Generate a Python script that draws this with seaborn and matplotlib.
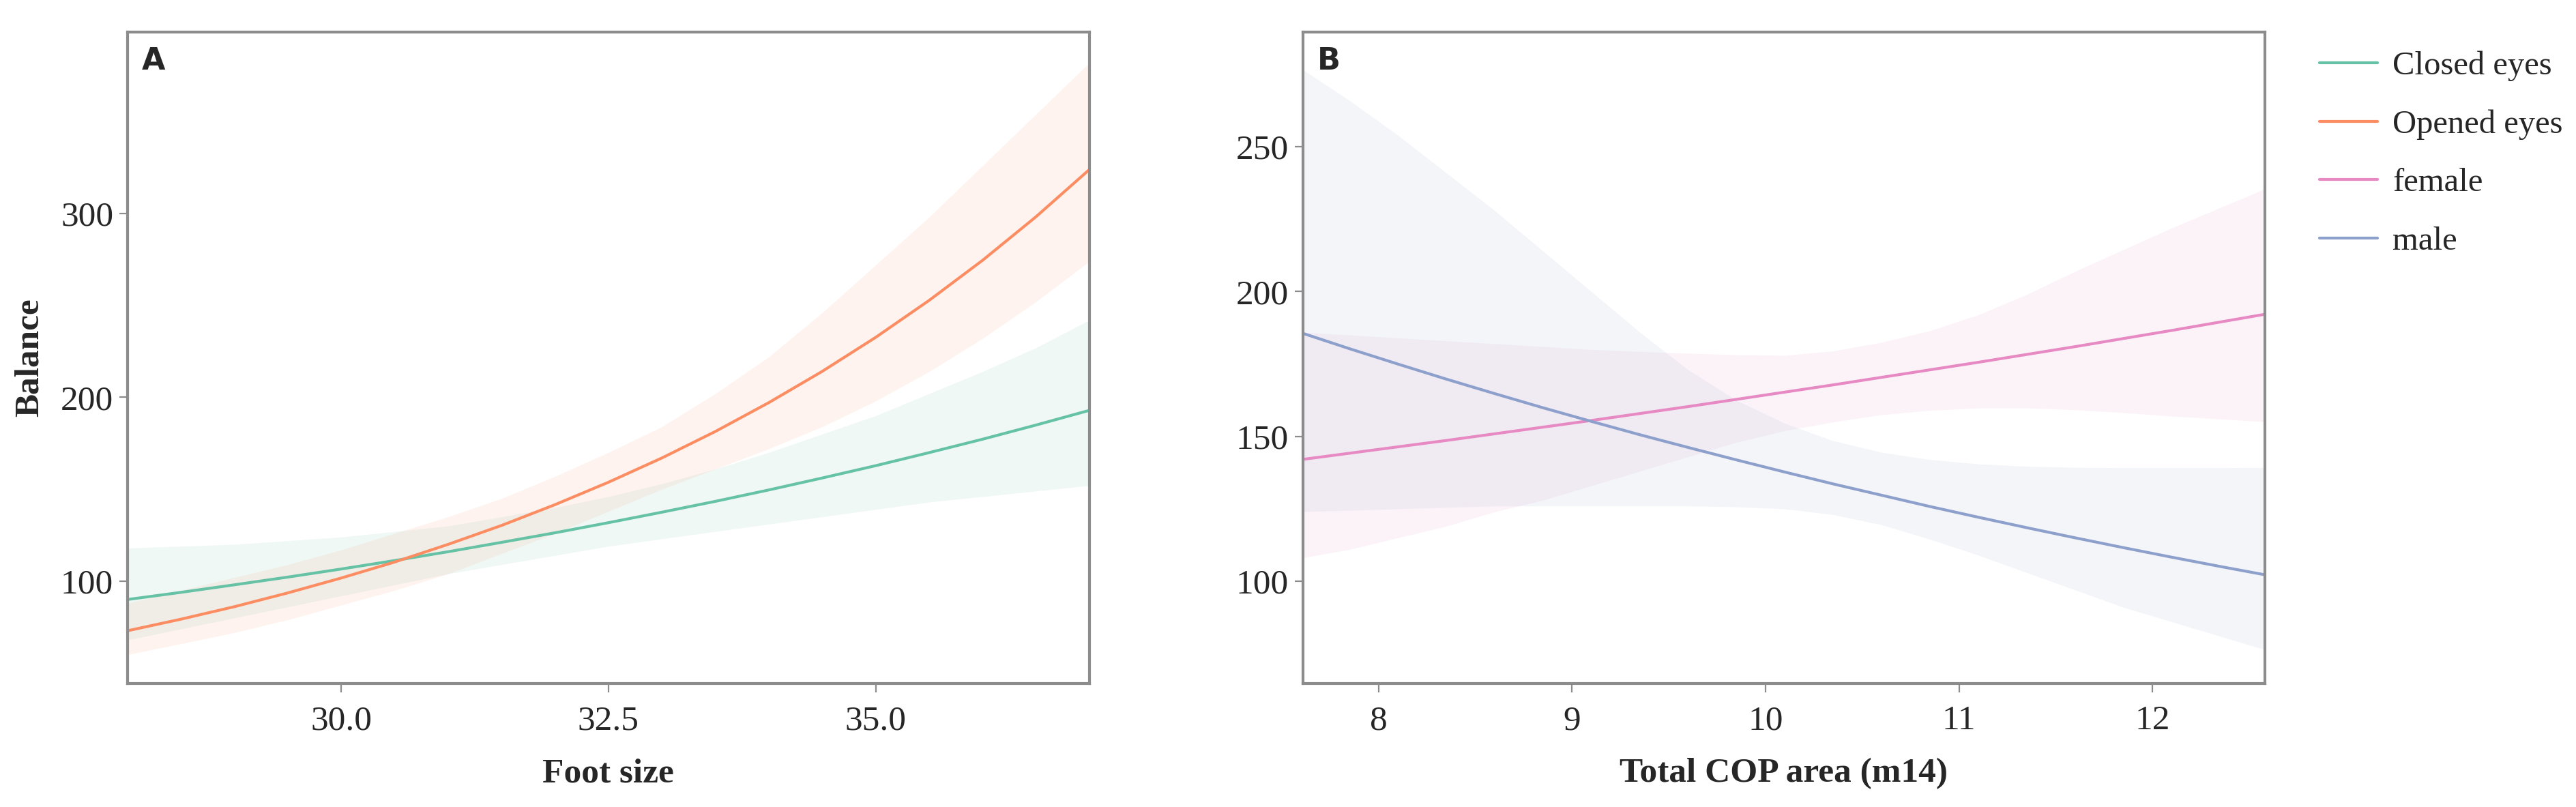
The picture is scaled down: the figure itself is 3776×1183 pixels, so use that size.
import pandas as pd
import matplotlib.pyplot as plt
import seaborn as sns

# panel A: balance vs foot size, by eye condition
foot_size = [28, 28.5, 29, 29.5, 30, 30.5, 31, 31.5, 32, 32.5, 33, 33.5, 34, 34.5, 35, 35.5, 36, 36.5, 37]
closed_fit = [90.0, 93.9, 98.0, 102.2, 106.6, 111.2, 116.0, 121.1, 126.3, 131.8, 137.5, 143.4,
              149.6, 156.1, 162.8, 169.9, 177.2, 184.9, 192.9]
closed_lo = [68, 74, 80, 86, 92, 98, 104, 109, 114, 119, 123, 127, 131, 135, 139, 143, 146, 149, 152]
closed_hi = [118, 119, 120, 122, 124, 127, 130, 135, 140, 146, 153, 161, 170, 180, 190, 202, 214, 227, 242]
opened_fit = [73.0, 79.3, 86.1, 93.6, 101.7, 110.4, 120.0, 130.3, 141.6, 153.8, 167.0, 181.4,
              197.1, 214.1, 232.6, 252.7, 274.5, 298.2, 323.9]
opened_lo = [60, 66, 72, 79, 87, 95, 104, 115, 126, 138, 150, 161, 172, 184, 198, 214, 232, 252, 274]
opened_hi = [88, 95, 102, 109, 117, 126, 135, 145, 157, 170, 184, 202, 222, 246, 272, 298, 326, 354, 382]

# panel B: balance vs total COP area, by sex
cop_area = [7.6, 7.85, 8.1, 8.35, 8.6, 8.85, 9.1, 9.35, 9.6, 9.85, 10.1, 10.35, 10.6, 10.85,
            11.1, 11.35, 11.6, 11.85, 12.1, 12.35, 12.6]
female_fit = [142.0, 144.2, 146.4, 148.6, 150.9, 153.2, 155.5, 157.9, 160.3, 162.8, 165.3,
              167.8, 170.4, 173.0, 175.6, 178.3, 181.0, 183.8, 186.6, 189.5, 192.4]
female_lo = [108, 111, 115, 119, 124, 128, 133, 138, 143, 148, 152, 155, 157.5, 159,
             159.8, 159.8, 159.2, 158.2, 157, 156, 155]
female_hi = [186, 185, 184, 183, 182, 181, 180, 179.3, 178.7, 178.2, 178, 179.5, 182.5, 186.5,
             192, 199, 207, 214.5, 222, 229, 236]
male_fit = [185.8, 180.3, 175.0, 169.8, 164.8, 159.9, 155.2, 150.6, 146.2, 141.9, 137.7,
            133.6, 129.7, 125.8, 122.1, 118.5, 115.0, 111.6, 108.3, 105.1, 102.0]
male_lo = [124, 124.5, 125, 125.5, 126, 126, 126, 126, 126, 125.7, 125, 123, 119.5, 114.5,
           109, 103, 97, 91, 86, 81, 76]
male_hi = [277, 266, 254, 241, 228, 214, 200, 186, 173, 162.5, 154.5, 148.5, 144.5, 142,
           140.5, 139.7, 139.3, 139.2, 139.2, 139.2, 139.3]

colors = {"Closed eyes": "#66c2a5", "Opened eyes": "#fc8d62",
          "female": "#e78ac3", "male": "#8da0cb"}

df_a = pd.concat([
    pd.DataFrame({"x": foot_size, "fit": closed_fit, "lo": closed_lo, "hi": closed_hi, "group": "Closed eyes"}),
    pd.DataFrame({"x": foot_size, "fit": opened_fit, "lo": opened_lo, "hi": opened_hi, "group": "Opened eyes"}),
])
df_b = pd.concat([
    pd.DataFrame({"x": cop_area, "fit": female_fit, "lo": female_lo, "hi": female_hi, "group": "female"}),
    pd.DataFrame({"x": cop_area, "fit": male_fit, "lo": male_lo, "hi": male_hi, "group": "male"}),
])

sns.set_theme(style="white")
plt.rcParams["font.family"] = ["Liberation Serif", "DejaVu Serif"]
spine_col = "#8c8c8c"
fs = 18.5

fig = plt.figure(figsize=(18.88, 5.915), dpi=200)
ax_a = fig.add_axes([0.0495, 0.153, 0.3734, 0.8073])
ax_b = fig.add_axes([0.5058, 0.153, 0.3734, 0.8073])

for ax, df in [(ax_a, df_a), (ax_b, df_b)]:
    for g, sub in df.groupby("group", sort=False):
        ax.fill_between(sub["x"], sub["lo"], sub["hi"], color=colors[g], alpha=0.1, linewidth=0)
    sns.lineplot(data=df, x="x", y="fit", hue="group", palette=colors, linewidth=1.5,
                 ax=ax, legend=False)
    for s in ax.spines.values():
        s.set_color(spine_col)
        s.set_linewidth(1.5)
    ax.tick_params(axis="both", which="both", direction="out", length=4.5, width=0.8,
                   color=spine_col, labelsize=fs, bottom=True, left=True)
    ax.tick_params(axis="x", pad=7)
    ax.tick_params(axis="y", pad=3)

ax_a.set_xlim(28, 37)
ax_a.set_ylim(44.3, 398.7)
ax_a.set_xticks([30.0, 32.5, 35.0])
ax_a.set_xticklabels(["30.0", "32.5", "35.0"])
ax_a.set_yticks([100, 200, 300])
ax_a.set_xlabel("Foot size", fontsize=fs, fontweight="bold", labelpad=11)
ax_a.set_ylabel("Balance", fontsize=fs, fontweight="bold", labelpad=8)

ax_b.set_xlim(7.61, 12.58)
ax_b.set_ylim(64.7, 289.6)
ax_b.set_xticks([8, 9, 10, 11, 12])
ax_b.set_yticks([100, 150, 200, 250])
ax_b.set_xlabel("Total COP area (m14)", fontsize=fs, fontweight="bold", labelpad=11)
ax_b.set_ylabel("")

for ax, letter in [(ax_a, "A"), (ax_b, "B")]:
    ax.text(0.015, 0.978, letter, transform=ax.transAxes, ha="left", va="top",
            fontsize=16, fontweight="heavy", family="DejaVu Sans")

handles = ax_a.get_lines()[:2] + ax_b.get_lines()[:2]
labels = ["Closed eyes", "Opened eyes", "female", "male"]
fig.legend(handles, labels, loc="upper left", bbox_to_anchor=(0.9005, 0.937),
           frameon=False, fontsize=17.5, handlelength=1.75, handletextpad=0.45,
           labelspacing=0.85, borderpad=0, borderaxespad=0)

fig.savefig("out.png", dpi=200)
plt.close(fig)
